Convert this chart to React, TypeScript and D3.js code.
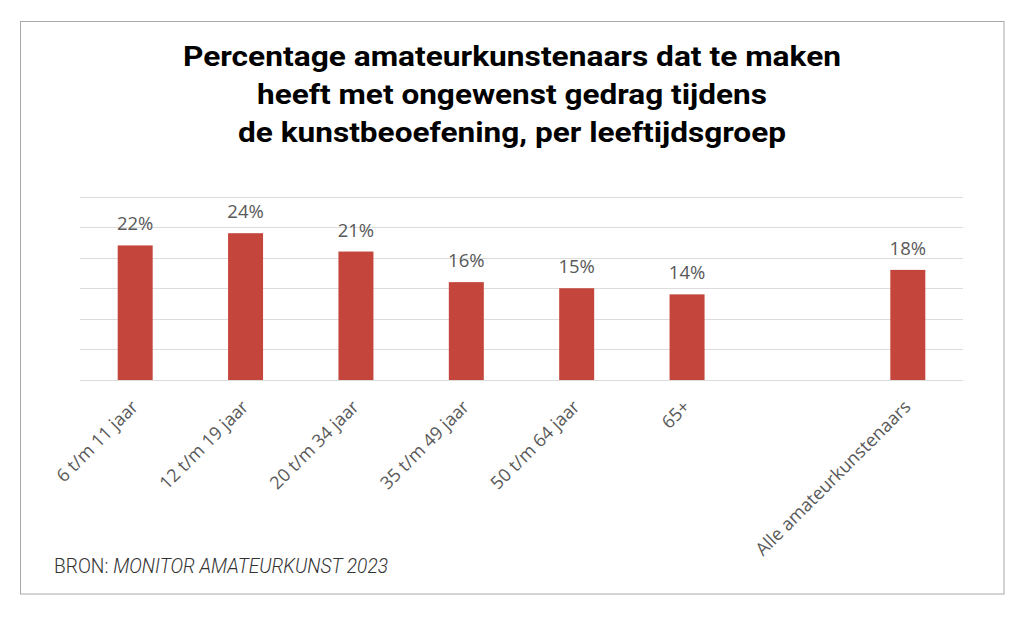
import React from "react";
import * as d3 from "d3";

const categories = [
  "6 t/m 11 jaar",
  "12 t/m 19 jaar",
  "20 t/m 34 jaar",
  "35 t/m 49 jaar",
  "50 t/m 64 jaar",
  "65+",
  "",
  "Alle amateurkunstenaars",
];
const values: (number | null)[] = [22, 24, 21, 16, 15, 14, null, 18];
const yTicks = [0, 5, 10, 15, 20, 25, 30];
const titleLines = [
  "Percentage amateurkunstenaars dat te maken",
  "heeft met ongewenst gedrag tijdens",
  "de kunstbeoefening, per leeftijdsgroep",
];
const titleWidths = [658, 510, 548];

const W = 1024;
const H = 617;
const BAR = "#c4453b";
const GREY_TEXT = "#595959";

export default function App() {
  const x = d3
    .scaleBand<string>()
    .domain(categories)
    .range([80, 963])
    .paddingInner(0.683)
    .paddingOuter(0.683 / 2);
  const y = d3.scaleLinear().domain([0, 30]).range([380, 196.5]);

  return (
    <svg
      width={W}
      height={H}
      style={{ position: "absolute", left: 0, top: 0, display: "block", background: "#fff" }}
    >
      <rect x={0} y={0} width={W} height={H} fill="#fff" />
      <rect x={20.5} y={21.5} width={983.5} height={572.5} fill="none" stroke="#a8a8a8" strokeWidth={1} />

      {titleLines.map((t, i) => (
        <text
          key={i}
          x={512}
          y={66 + i * 38}
          textAnchor="middle"
          fontFamily="Roboto, sans-serif"
          fontWeight={700}
          fontSize={27}
          fill="#000"
          textLength={titleWidths[i]}
          lengthAdjust="spacingAndGlyphs"
        >
          {t}
        </text>
      ))}

      {yTicks.map((t) => (
        <line
          key={t}
          x1={80}
          x2={963}
          y1={Math.round(y(t)) + 0.5}
          y2={Math.round(y(t)) + 0.5}
          stroke="#dcdcdc"
          strokeWidth={1.2}
        />
      ))}

      {categories.map((c, i) => {
        const v = values[i];
        if (v == null) return null;
        const bx = x(c)!;
        const cx = bx + x.bandwidth() / 2;
        return (
          <g key={c}>
            <rect x={bx} y={y(v)} width={x.bandwidth()} height={y(0) - y(v)} fill={BAR} />
            <text
              x={cx}
              y={y(v) - 15}
              textAnchor="middle"
              fontFamily="'Open Sans', sans-serif"
              fontSize={18.5}
              fill={GREY_TEXT}
            >
              {v}%
            </text>
          </g>
        );
      })}

      {categories.map((c, i) => {
        if (!c) return null;
        const cx = x(c)! + x.bandwidth() / 2 + 4;
        const ly = 408;
        return (
          <text
            key={"l" + i}
            x={cx}
            y={ly}
            transform={`rotate(-45, ${cx}, ${ly})`}
            textAnchor="end"
            fontFamily="'Open Sans', sans-serif"
            fontSize={18}
            fill={GREY_TEXT}
          >
            {c}
          </text>
        );
      })}

      <text
        x={54}
        y={573}
        fontFamily="Roboto, sans-serif"
        fontWeight={300}
        fontSize={19.5}
        fill="#333"
        textLength={334}
        lengthAdjust="spacingAndGlyphs"
      >
        <tspan>BRON: </tspan>
        <tspan fontStyle="italic">MONITOR AMATEURKUNST 2023</tspan>
      </text>
    </svg>
  );
}
